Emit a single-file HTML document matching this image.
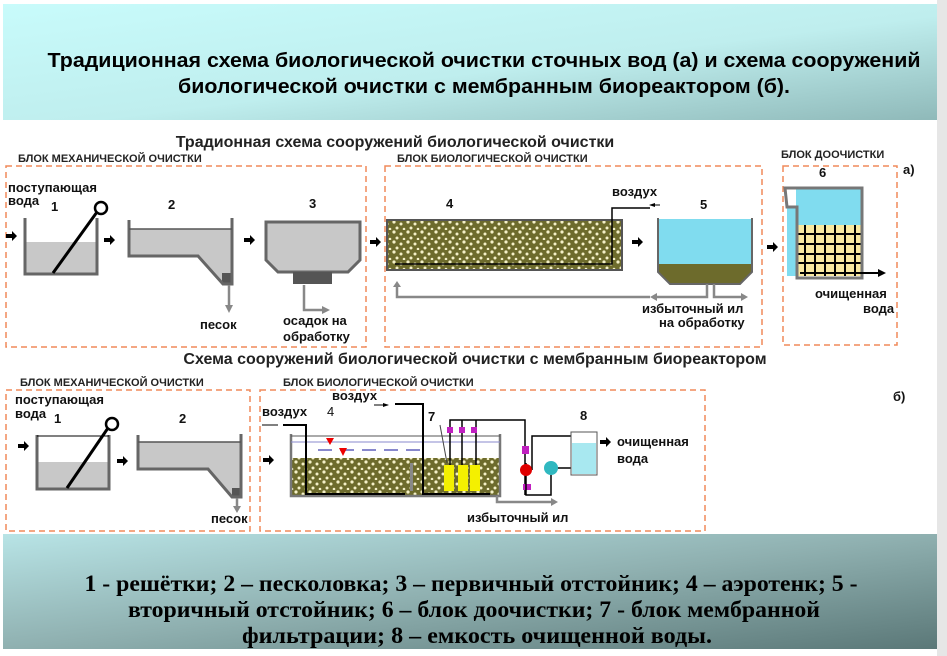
<!DOCTYPE html>
<html><head><meta charset="utf-8"><style>
html,body{margin:0;padding:0;background:#fff;width:947px;height:656px;overflow:hidden}
svg{display:block}
text{font-family:"Liberation Sans",sans-serif}
</style></head><body>
<svg width="947" height="656" viewBox="0 0 947 656" xmlns="http://www.w3.org/2000/svg">
<defs>
<linearGradient id="hg" x1="0" y1="0" x2="1" y2="1"><stop offset="0" stop-color="#c8fbfb"/><stop offset="0.55" stop-color="#bfeeee"/><stop offset="1" stop-color="#8fb9b9"/></linearGradient>
<linearGradient id="fg" x1="0" y1="0" x2="1" y2="1"><stop offset="0" stop-color="#b8e4e6"/><stop offset="0.5" stop-color="#8fb0b0"/><stop offset="1" stop-color="#5b7878"/></linearGradient>
<pattern id="dots" width="14" height="10" patternUnits="userSpaceOnUse"><rect width="14" height="10" fill="#6d6b2c"/><circle cx="2" cy="2" r="1.6" fill="#f4f0c8"/><circle cx="9" cy="4" r="1.5" fill="#f4f0c8"/><circle cx="5" cy="8" r="1.5" fill="#f4f0c8"/><circle cx="12" cy="9" r="1.3" fill="#f4f0c8"/></pattern>
<marker id="ab" markerWidth="6" markerHeight="6" refX="5" refY="3" orient="auto" markerUnits="userSpaceOnUse"><path d="M0,1 L6,3 L0,5z" fill="#000"/></marker>
</defs>
<rect x="937" y="0" width="10" height="656" fill="#e6e6e6"/>
<rect x="3" y="4" width="934" height="116" fill="url(#hg)"/>
<text x="484" y="67" font-size="20" font-weight="bold" text-anchor="middle" textLength="873" lengthAdjust="spacingAndGlyphs">Традиционная схема биологической очистки сточных вод (а) и схема сооружений</text>
<text x="484" y="93" font-size="20" font-weight="bold" text-anchor="middle" textLength="612" lengthAdjust="spacingAndGlyphs">биологической очистки с мембранным биореактором (б).</text>
<rect x="3" y="534" width="934" height="115" fill="url(#fg)"/>
<g font-weight="bold" font-size="23" text-anchor="middle" fill="#000">
<text x="471" y="591" textLength="773" lengthAdjust="spacingAndGlyphs" style="font-family:'Liberation Serif',serif">1 - решётки; 2 – песколовка; 3 – первичный отстойник; 4 – аэротенк; 5 -</text>
<text x="474" y="617" textLength="692" lengthAdjust="spacingAndGlyphs" style="font-family:'Liberation Serif',serif">вторичный отстойник; 6 – блок доочистки; 7 - блок мембранной</text>
<text x="477" y="643" textLength="470" lengthAdjust="spacingAndGlyphs" style="font-family:'Liberation Serif',serif">фильтрации; 8 – емкость очищенной воды.</text>
</g>
<!-- TOP -->
<text x="395" y="147" font-size="16" font-weight="bold" fill="#222" text-anchor="middle">Традионная схема сооружений биологической очистки</text>
<g font-size="11" font-weight="bold" fill="#222">
<text x="18" y="162">БЛОК МЕХАНИЧЕСКОЙ ОЧИСТКИ</text>
<text x="397" y="162">БЛОК БИОЛОГИЧЕСКОЙ ОЧИСТКИ</text>
<text x="781" y="158">БЛОК ДООЧИСТКИ</text>
</g>
<g fill="none" stroke="#f08a5a" stroke-width="1.5" stroke-dasharray="6,4">
<rect x="6" y="166" width="360" height="181"/>
<rect x="385" y="166" width="377" height="181"/>
<rect x="783" y="166" width="114" height="179"/>
<rect x="6" y="390" width="244" height="141"/>
<rect x="260" y="390" width="445" height="141"/>
</g>
<g font-size="13" font-weight="bold" fill="#111">
<text x="903" y="174">а)</text>
<text x="8" y="192">поступающая</text><text x="8" y="205">вода</text>
<text x="51" y="211">1</text><text x="168" y="209">2</text><text x="309" y="208">3</text><text x="446" y="208">4</text><text x="700" y="209">5</text><text x="819" y="177">6</text>
<text x="612" y="196">воздух</text>
<text x="200" y="329">песок</text>
<text x="283" y="325">осадок на</text><text x="283" y="341">обработку</text>
<text x="642" y="313">избыточный ил</text><text x="659" y="327">на обработку</text>
<text x="815" y="298">очищенная</text><text x="863" y="313">вода</text>
</g>
<!-- arrows black -->
<g fill="#000">
<path d="M6,234h6v-3l5,5l-5,5v-3h-6z"/>
<path d="M104,238h6v-3l5,5l-5,5v-3h-6z"/>
<path d="M244,238h6v-3l5,5l-5,5v-3h-6z"/>
<path d="M370,240h6v-3l5,5l-5,5v-3h-6z"/>
<path d="M632,240h6v-3l5,5l-5,5v-3h-6z"/>
<path d="M767,245h6v-3l5,5l-5,5v-3h-6z"/>
<path d="M18,444h6v-3l5,5l-5,5v-3h-6z"/>
<path d="M117,459h6v-3l5,5l-5,5v-3h-6z"/>
<path d="M263,458h6v-3l5,5l-5,5v-3h-6z"/>
<path d="M600,440h6v-3l5,5l-5,5v-3h-6z"/>
</g>
<!-- tank1 -->
<rect x="25" y="242" width="72" height="32" fill="#c8c8c8"/>
<path d="M25,218V274H97V218" fill="none" stroke="#666" stroke-width="3"/>
<line x1="53" y1="273" x2="97" y2="212" stroke="#000" stroke-width="3"/>
<circle cx="101" cy="208" r="6" fill="#fff" stroke="#000" stroke-width="2.5"/>
<!-- tank2 -->
<path d="M129,229H232V283H223L198,255H129z" fill="#c8c8c8"/>
<rect x="222" y="273" width="10" height="10" fill="#555"/>
<path d="M129,220V256H198L223,284H232V218" fill="none" stroke="#666" stroke-width="3"/>
<line x1="129" y1="229" x2="232" y2="229" stroke="#555" stroke-width="1.5"/>
<line x1="229" y1="285" x2="229" y2="306" stroke="#888" stroke-width="2.5"/>
<path d="M225,305h8l-4,8z" fill="#888"/>
<!-- tank3 -->
<path d="M266,222H360V260L348,272H278L266,260z" fill="#c8c8c8" stroke="#666" stroke-width="3"/>
<rect x="293" y="272" width="39" height="12" fill="#555"/>
<path d="M304,285V310H323" fill="none" stroke="#888" stroke-width="2.5"/>
<path d="M322,306l8,4l-8,4z" fill="#888"/>
<!-- aerotank -->
<rect x="387" y="220" width="235" height="50" fill="url(#dots)" stroke="#555" stroke-width="2"/>
<path d="M395,264H612V208H650" fill="none" stroke="#000" stroke-width="1.5"/>
<path d="M660,205H650" stroke="#000" marker-end="url(#ab)"/>
<path d="M397,284V297H650" fill="none" stroke="#888" stroke-width="2.5"/>
<path d="M397,281l-4,6h8z" fill="#888"/>
<!-- tank5 -->
<path d="M658,219V265H752V219" fill="#80dcef"/>
<path d="M658,264H752V272L740,283H670L658,272z" fill="#6d6b2c"/>
<path d="M658,218V272L670,284H740L752,272V218" fill="none" stroke="#666" stroke-width="2"/>
<path d="M707,284V297H656M714,284V297H742" fill="none" stroke="#888" stroke-width="2.5"/>
<path d="M650,297l7,-4v8z M748,297l-7,-4v8z" fill="#888"/>
<!-- tank6 -->
<path d="M787,188H861V276H787V206H796V188" fill="#80dcef"/>
<rect x="797" y="225" width="64" height="51" fill="#f8e8a0"/>
<g stroke="#000" stroke-width="2">
<line x1="805" y1="225" x2="805" y2="276"/><line x1="815" y1="225" x2="815" y2="276"/><line x1="825" y1="225" x2="825" y2="276"/><line x1="835" y1="225" x2="835" y2="276"/><line x1="845" y1="225" x2="845" y2="276"/><line x1="855" y1="225" x2="855" y2="276"/>
<line x1="797" y1="234" x2="861" y2="234"/><line x1="797" y1="244" x2="861" y2="244"/><line x1="797" y1="254" x2="861" y2="254"/><line x1="797" y1="263" x2="861" y2="263"/>
</g>
<path d="M785,188H862V278H797V207H787z" fill="none" stroke="#777" stroke-width="3"/>
<line x1="800" y1="273" x2="880" y2="273" stroke="#000" stroke-width="2"/>
<path d="M878,269l8,4l-8,4z" fill="#000"/>
<!-- BOTTOM -->
<text x="475" y="364" font-size="16" font-weight="bold" fill="#222" text-anchor="middle">Схема сооружений биологической очистки с мембранным биореактором</text>
<g font-size="11" font-weight="bold" fill="#222">
<text x="20" y="386">БЛОК МЕХАНИЧЕСКОЙ ОЧИСТКИ</text>
<text x="283" y="386">БЛОК БИОЛОГИЧЕСКОЙ ОЧИСТКИ</text>
</g>
<g font-size="13" font-weight="bold" fill="#111">
<text x="893" y="401">б)</text>
<text x="15" y="404">поступающая</text><text x="15" y="418">вода</text>
<text x="54" y="423">1</text><text x="179" y="423">2</text>
<text x="211" y="523">песок</text>
<text x="262" y="416">воздух</text><text x="327" y="416" font-weight="normal">4</text>
<text x="332" y="400">воздух</text>
<text x="428" y="421">7</text><text x="580" y="420">8</text>
<text x="617" y="446">очищенная</text><text x="617" y="463">вода</text>
<text x="467" y="522">избыточный ил</text>
</g>
<!-- b tank1 -->
<rect x="37" y="462" width="72" height="27" fill="#c8c8c8"/>
<path d="M37,435V489H109V435" fill="none" stroke="#666" stroke-width="3"/>
<line x1="37" y1="436" x2="109" y2="436" stroke="#000" stroke-width="1"/>
<line x1="67" y1="488" x2="108" y2="428" stroke="#000" stroke-width="3"/>
<circle cx="112" cy="424" r="6" fill="#fff" stroke="#000" stroke-width="2.5"/>
<!-- b tank2 -->
<path d="M138,442H241V496H232L208,469H138z" fill="#c8c8c8"/>
<rect x="232" y="488" width="9" height="9" fill="#555"/>
<path d="M138,435V469H208L232,497H241V434" fill="none" stroke="#666" stroke-width="3"/>
<line x1="138" y1="442" x2="241" y2="442" stroke="#555" stroke-width="1.5"/>
<line x1="237" y1="498" x2="237" y2="508" stroke="#888" stroke-width="2.5"/>
<path d="M233,506h8l-4,7z" fill="#888"/>
<!-- bio tank -->
<rect x="291" y="458" width="208" height="37" fill="url(#dots)"/>
<path d="M291,434V496H500V434" fill="none" stroke="#777" stroke-width="2.5"/>
<line x1="291" y1="436" x2="500" y2="436" stroke="#555"/>
<line x1="291" y1="442" x2="500" y2="442" stroke="#8888cc"/>
<line x1="318" y1="450" x2="420" y2="450" stroke="#8888cc" stroke-width="2" stroke-dasharray="14,8"/>
<path d="M326,438h8l-4,7z M339,448h8l-4,8z" fill="#e00"/>
<path d="M283,425H306V494H405" fill="none" stroke="#000" stroke-width="2"/>
<path d="M395,404H423V494H490" fill="none" stroke="#000" stroke-width="2"/>
<path d="M262,425h16M374,405h14" stroke="#000" marker-end="url(#ab)"/>
<rect x="410" y="463" width="3" height="28" fill="#888"/>
<rect x="444" y="465" width="10" height="26" fill="#f4f000"/>
<rect x="458" y="465" width="10" height="26" fill="#f4f000"/>
<rect x="470" y="465" width="10" height="26" fill="#f4f000"/>
<line x1="440" y1="425" x2="447" y2="463" stroke="#444"/>
<path d="M450,465V420H525V495M462,465V420M476,465V420" fill="none" stroke="#000" stroke-width="1.5"/>
<g fill="#c020c0"><rect x="447" y="427" width="6" height="6"/><rect x="459" y="427" width="6" height="6"/><rect x="471" y="427" width="6" height="6"/><rect x="522" y="446" width="7" height="8"/><rect x="523" y="484" width="8" height="6"/></g>
<path d="M526,463V495H551V475M532,470V436H571M557,468H571" fill="none" stroke="#000" stroke-width="1.5"/>
<circle cx="526" cy="470" r="6" fill="#e00000"/>
<circle cx="551" cy="468" r="7" fill="#30b8c0"/>
<rect x="571" y="432" width="26" height="43" fill="#fff" stroke="#555"/>
<rect x="572" y="443" width="24" height="31" fill="#a8e8f0"/>
<path d="M497,496V502H552" fill="none" stroke="#888" stroke-width="2.5"/>
<path d="M551,498l7,4l-7,4z" fill="#888"/>
</svg>
</body></html>
